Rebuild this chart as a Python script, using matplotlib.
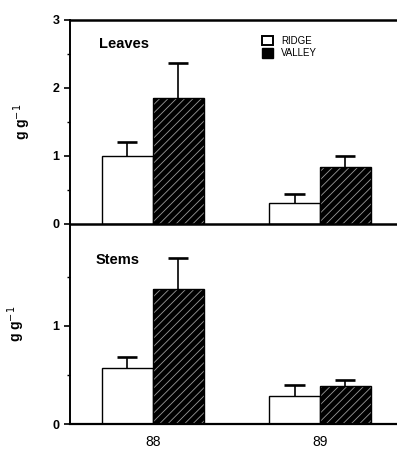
import matplotlib
matplotlib.use("Agg")
import matplotlib.pyplot as plt
import numpy as np
from matplotlib.patches import Patch

years = ["88", "89"]
leaves_ridge = [1.0, 0.3]
leaves_ridge_err = [0.2, 0.14]
leaves_valley = [1.85, 0.84]
leaves_valley_err = [0.52, 0.16]
stems_ridge = [0.57, 0.29]
stems_ridge_err = [0.11, 0.11]
stems_valley = [1.38, 0.39]
stems_valley_err = [0.31, 0.06]

plt.rcParams['font.family'] = ['Liberation Sans', 'DejaVu Sans']
plt.rcParams['hatch.linewidth'] = 0.6

fig = plt.figure(figsize=(3.97, 4.54), dpi=100)
ax1 = fig.add_axes([0.176, 0.507, 0.824, 0.449])
ax2 = fig.add_axes([0.176, 0.066, 0.824, 0.441])

x = np.arange(len(years))
w = 0.305
capw = 0.06

def draw(ax, ridge, rerr, valley, verr):
    xr = x - w / 2
    xv = x + w / 2
    ridge = np.array(ridge); valley = np.array(valley)
    rerr = np.array(rerr); verr = np.array(verr)
    ax.bar(xr, ridge, width=w, facecolor='white', edgecolor='black', linewidth=1.0, zorder=2)
    ax.bar(xv, valley, width=w, facecolor='black', edgecolor='#9a9a9a', hatch='////', linewidth=0, zorder=2)
    ax.bar(xv, valley, width=w, facecolor='none', edgecolor='black', linewidth=1.0, zorder=3)
    for xs, v, e in ((xr, ridge, rerr), (xv, valley, verr)):
        ax.vlines(xs, v, v + e, colors='black', linewidth=1.2, zorder=4)
        ax.hlines(v + e, xs - capw, xs + capw, colors='black', linewidth=1.9, zorder=4)
    ax.set_xlim(-0.497, 1.461)
    ax.spines['right'].set_visible(False)
    ax.spines['left'].set_linewidth(1.4)
    ax.spines['bottom'].set_linewidth(1.6)
    ax.tick_params(axis='y', direction='out', length=4, width=1.2, labelsize=9)
    ax.tick_params(axis='y', which='minor', direction='out', length=2.5, width=1.0)

draw(ax1, leaves_ridge, leaves_ridge_err, leaves_valley, leaves_valley_err)
draw(ax2, stems_ridge, stems_ridge_err, stems_valley, stems_valley_err)

ax1.set_ylim(0, 3)
ax1.set_yticks([0, 1, 2, 3])
ax1.set_yticks([0.5, 1.5, 2.5], minor=True)
ax1.spines['top'].set_linewidth(1.8)
ax1.set_xticks([])
ax1.spines['bottom'].set_visible(False)

ax2.set_ylim(0, 2.04)
ax2.set_yticks([0, 1])
ax2.set_yticks([0.5, 1.5], minor=True)
ax2.spines['top'].set_linewidth(1.8)
ax2.set_xticks(x)
ax2.set_xticklabels(years, fontsize=10)
ax2.tick_params(axis='x', length=0, pad=8)

for ax in (ax1, ax2):
    for lab in ax.get_yticklabels():
        lab.set_fontweight('bold')

ax1.set_ylabel("g g$^{-1}$", fontsize=10, fontweight='bold', labelpad=14)
ax2.set_ylabel("g g$^{-1}$", fontsize=10, fontweight='bold', labelpad=18)

ax1.text(0.09, 0.88, "Leaves", transform=ax1.transAxes, fontsize=10.5, fontweight='bold', ha='left', va='center')
ax2.text(0.08, 0.82, "Stems", transform=ax2.transAxes, fontsize=10.5, fontweight='bold', ha='left', va='center')

handles = [Patch(facecolor='white', edgecolor='black', linewidth=1.4, label='RIDGE'),
           Patch(facecolor='black', edgecolor='black', label='VALLEY')]
ax1.legend(handles=handles, loc='upper left', bbox_to_anchor=(0.56, 0.965), frameon=False,
           fontsize=7, handlelength=1.1, handleheight=1.1, handletextpad=0.9, labelspacing=0.25)

fig.savefig("out.png", dpi=100)
